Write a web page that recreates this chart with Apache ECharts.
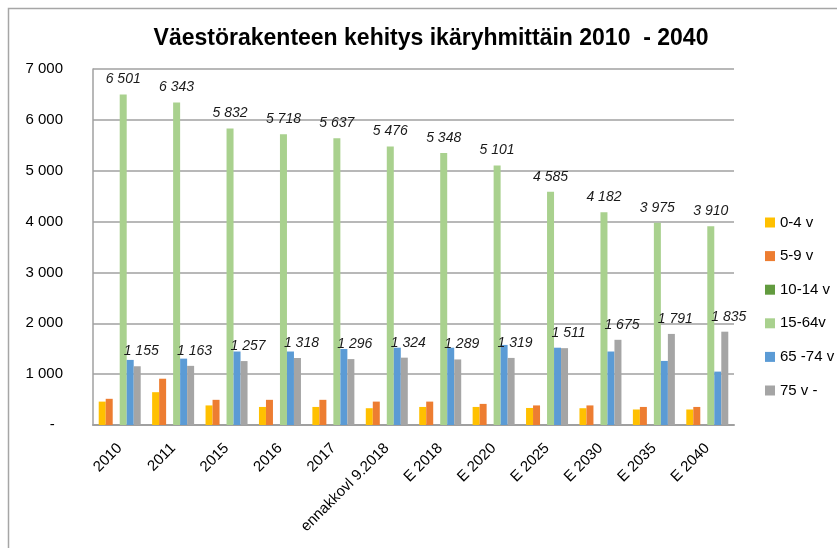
<!DOCTYPE html>
<html><head><meta charset="utf-8">
<script src="https://cdn.jsdelivr.net/npm/echarts@6/dist/echarts.min.js"></script>
<style>html,body{margin:0;padding:0;background:#fff}#c{width:837px;height:548px}</style>
</head><body><div id="c"></div>
<script>
const categories = ["2010","2011","2015","2016","2017","ennakkovl 9.2018","E 2018","E 2020","E 2025","E 2030","E 2035","E 2040"];
const seriesNames = ["0-4 v","5-9 v","10-14 v","15-64v","65 -74 v","75 v -"];
const age0_4   = [460, 645, 385, 355, 355, 330, 355, 355, 335, 330, 305, 305];
const age5_9   = [515, 910, 495, 495, 495, 460, 460, 415, 385, 385, 355, 355];
const age10_14 = [0, 0, 0, 0, 0, 0, 0, 0, 0, 0, 0, 0];
const age15_64 = [6501, 6343, 5832, 5718, 5637, 5476, 5348, 5101, 4585, 4182, 3975, 3910];
const age65_74 = [1280, 1305, 1445, 1445, 1495, 1520, 1520, 1575, 1520, 1445, 1260, 1050];
const age75    = [1155, 1163, 1257, 1318, 1296, 1324, 1289, 1319, 1511, 1675, 1791, 1835];
const yTicks = [0, 1000, 2000, 3000, 4000, 5000, 6000, 7000];

const colors = ["#FFC000","#ED7D31","#629B3F","#A9D18E","#5B9BD5","#A5A5A5"];
const dataSets = [age0_4, age5_9, age10_14, age15_64, age65_74, age75];
const fmt = v => v === 0 ? "-" : String(v).replace(/\B(?=(\d{3})+(?!\d))/g, " ");
const font = "'Liberation Sans', Arial, sans-serif";

const series = dataSets.map((d, i) => ({
  name: seriesNames[i],
  type: "bar",
  data: d,
  barWidth: 7,
  barGap: "0%",
  itemStyle: { color: colors[i] },
  label: (i === 3 || i === 5) ? {
    show: true, position: "top", distance: 8,
    offset: i === 5 ? [4, 0] : [0, 0],
    formatter: p => fmt(p.value),
    fontFamily: font, fontStyle: "italic", fontSize: 14, color: "#1a1a1a"
  } : { show: false }
}));

const chart = echarts.init(document.getElementById("c"), null, { renderer: "canvas" });
chart.setOption({
  animation: false,
  backgroundColor: "#fff",
  title: {
    text: "Väestörakenteen kehitys ikäryhmittäin 2010  - 2040",
    left: 426, top: 22, textAlign: "center",
    textStyle: { fontFamily: "'Liberation Sans Narrow', 'Liberation Sans', sans-serif", fontWeight: "bold", fontSize: 23, color: "#000" }
  },
  graphic: [{ type: "rect", shape: { x: 8.5, y: 8.5, width: 900, height: 700 }, style: { fill: "none", stroke: "#a6a6a6", lineWidth: 1.5 }, silent: true }],
  legend: {
    orient: "vertical", left: 760, top: 210, itemWidth: 10, itemHeight: 10, itemGap: 18.6,
    icon: "rect",
    textStyle: { fontFamily: font, fontSize: 15, color: "#000" },
    data: seriesNames
  },
  grid: { left: 93, right: 103, top: 69, bottom: 123, containLabel: false },
  xAxis: {
    type: "category", data: categories,
    axisLine: { lineStyle: { color: "#a0a0a0", width: 2 } },
    axisTick: { show: false },
    axisLabel: { rotate: 45, margin: 21, interval: 0, fontFamily: font, fontSize: 15, color: "#000" }
  },
  yAxis: {
    type: "value", min: 0, max: 7000, interval: 1000,
    axisLine: { show: true, lineStyle: { color: "#a0a0a0", width: 1.5 } },
    axisTick: { show: false },
    splitLine: { lineStyle: { color: "#a0a0a0", width: 1.5 } },
    axisLabel: { margin: 30, fontFamily: font, fontSize: 15, color: "#000",
      formatter: v => yTicks.includes(v) ? (v === 0 ? "-  " : fmt(v)) : "" }
  },
  series: series
});
</script></body></html>
